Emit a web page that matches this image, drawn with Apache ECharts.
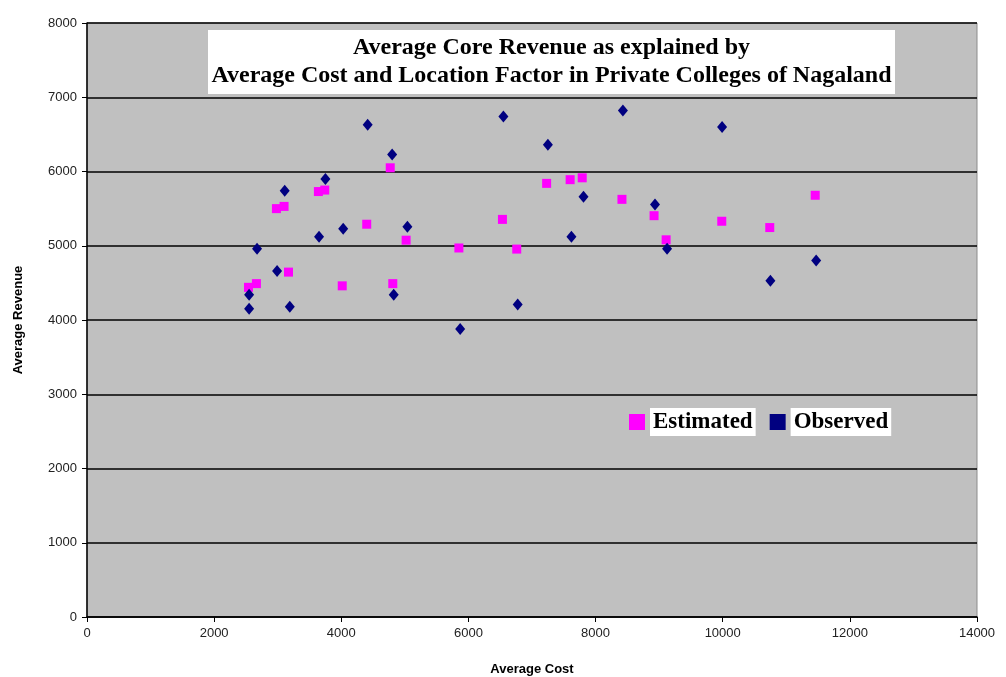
<!DOCTYPE html>
<html>
<head>
<meta charset="utf-8">
<script src="https://cdn.jsdelivr.net/npm/echarts@6/dist/echarts.min.js"></script>
<style>
  html, body { margin: 0; padding: 0; background: #fff; }
  #chartScatter { width: 1006px; height: 677px; }
</style>
</head>
<body>
<div id="chartScatter"></div>
<script>
// 数据
var estimatedCost = [2540, 2665, 2980, 3100, 3170, 3640, 3740, 4015, 4400, 4770, 4810, 5020,
                     5850, 6535, 6760, 7230, 7600, 7790, 8415, 8920, 9110, 9985, 10740, 11455];
var estimatedRevenue = [4440, 4490, 5500, 5530, 4645, 5730, 5750, 4460, 5290, 6050, 4490, 5075,
                        4970, 5355, 4955, 5840, 5890, 5915, 5625, 5405, 5080, 5330, 5245, 5680];
var observedCost = [2550, 2550, 2675, 2990, 3110, 3190, 3650, 3750, 4030, 4415, 4800, 4825, 5040,
                    5870, 6550, 6775, 7250, 7620, 7810, 8430, 8935, 9125, 9990, 10750, 11470];
var observedRevenue = [4340, 4150, 4960, 4660, 5740, 4180, 5120, 5900, 5230, 6630, 6230, 4340, 5255,
                       3880, 6740, 4210, 6360, 5120, 5660, 6820, 5555, 4960, 6600, 4530, 4800];
var seriesNames = ['Estimated', 'Observed'];
var titleLines = ['Average Core Revenue as explained by',
                  'Average Cost and Location Factor in Private Colleges of Nagaland'];

function pairs(xs, ys) {
	var out = [];
	for (var i = 0; i < xs.length; i++) {
		out.push([xs[i], ys[i]]);
	}
	return out;
}

(function() {
	var serifFont = '"Liberation Serif", "DejaVu Serif", serif';
	var sansFont = '"Liberation Sans", Arial, sans-serif';
	var plainNumber = function(v) { return String(v); }; // no thousands separator

	var option = {
		animation: false,
		backgroundColor: '#fff',
		title: {
			text: titleLines.map(function(s) { return '{t|' + s + '}'; }).join('\n'),
			left: 208,
			top: 28,
			padding: [6, 0, 6, 0],
			backgroundColor: '#fff',
			textStyle: {
				rich: {
					t: {
						fontFamily: serifFont,
						fontWeight: 'bold',
						fontSize: 24,
						color: '#000',
						lineHeight: 28,
						width: 687,
						align: 'center'
					}
				}
			}
		},
		legend: {
			data: [
				{ name: seriesNames[0], icon: 'rect' },
				{ name: seriesNames[1], icon: 'rect' }
			],
			left: 624,
			top: 403,
			itemWidth: 16,
			itemHeight: 16,
			itemGap: 14,
			textStyle: {
				fontFamily: serifFont,
				fontWeight: 'bold',
				fontSize: 23,
				color: '#000',
				backgroundColor: '#fff',
				padding: [3, 3, 2, 3]
			}
		},
		grid: {
			left: 87,
			right: 29,
			top: 23,
			bottom: 60,
			outerBoundsMode: 'none',
			show: true,
			backgroundColor: '#c0c0c0',
			borderColor: '#8c8c8c',
			borderWidth: 1
		},
		xAxis: {
			type: 'value',
			min: 0,
			max: 14000,
			interval: 2000,
			name: 'Average Cost',
			nameLocation: 'middle',
			nameGap: 46,
			nameTextStyle: { fontFamily: sansFont, fontWeight: 'bold', fontSize: 13, color: '#000' },
			axisLine: { show: true, lineStyle: { color: '#000', width: 1.5 } },
			axisTick: { show: true, inside: false, length: 5, lineStyle: { color: '#000' } },
			axisLabel: { fontFamily: sansFont, fontSize: 13, color: '#222', margin: 10, formatter: plainNumber },
			splitLine: { show: false }
		},
		yAxis: {
			type: 'value',
			min: 0,
			max: 8000,
			interval: 1000,
			name: 'Average Revenue',
			nameLocation: 'middle',
			nameGap: 62,
			nameTextStyle: { fontFamily: sansFont, fontWeight: 'bold', fontSize: 13, color: '#000' },
			axisLine: { show: true, lineStyle: { color: '#000', width: 1.5 } },
			axisTick: { show: true, inside: false, length: 5, lineStyle: { color: '#000' } },
			axisLabel: { fontFamily: sansFont, fontSize: 13, color: '#222', margin: 10, formatter: plainNumber },
			splitLine: { show: true, lineStyle: { color: '#000', width: 1.5 } }
		},
		series: [{
			name: seriesNames[0],
			type: 'scatter',
			symbol: 'rect',
			symbolSize: 9,
			itemStyle: { color: '#ff00ff', opacity: 1 },
			data: pairs(estimatedCost, estimatedRevenue)
		}, {
			name: seriesNames[1],
			type: 'scatter',
			symbol: 'diamond',
			symbolSize: [10, 12],
			itemStyle: { color: '#000080', opacity: 1 },
			data: pairs(observedCost, observedRevenue)
		}]
	};

	var chart = echarts.init(document.getElementById('chartScatter'));
	chart.setOption(option);
})();
</script>
</body>
</html>
